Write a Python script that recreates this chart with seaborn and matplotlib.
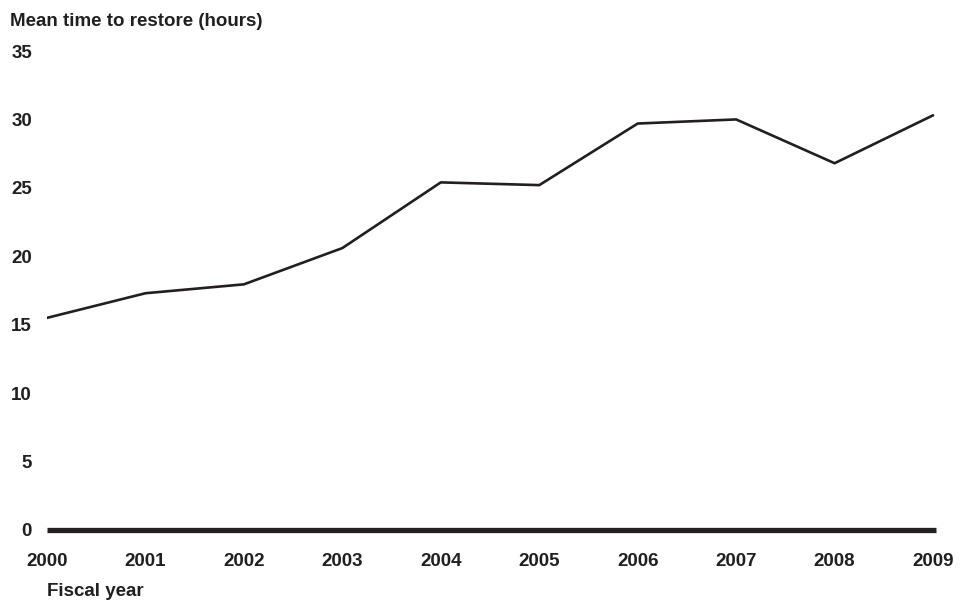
import matplotlib
matplotlib.use("Agg")
import matplotlib.pyplot as plt
import pandas as pd
import seaborn as sns

# values
years = [2000, 2001, 2002, 2003, 2004, 2005, 2006, 2007, 2008, 2009]
mttr_hours = [15.5, 17.3, 17.95, 20.6, 25.4, 25.2, 29.7, 30.0, 26.8, 30.3]
y_ticks = [0, 5, 10, 15, 20, 25, 30, 35]

ink = "#231f20"

sns.set_style("white")
plt.rcParams["font.family"] = ["Liberation Sans", "DejaVu Sans"]
plt.rcParams["font.weight"] = "bold"

df = pd.DataFrame({"year": years, "hours": mttr_hours})

W, H = 974, 602
fig = plt.figure(figsize=(W / 100, H / 100), dpi=100)
ax = fig.add_axes([47 / W, 1 - 530 / H, (936 - 47) / W, (530 - 51) / H])

sns.lineplot(data=df, x="year", y="hours", ax=ax, color=ink, linewidth=1.9)
ax.axhline(0, color=ink, linewidth=3.8, clip_on=False, zorder=3,
           solid_capstyle="butt")

ax.set_xlim(2000, 2009.03)
ax.set_ylim(0, 35)
ax.set_xticks(years)
ax.set_xticklabels([str(y) for y in years])
ax.set_yticks(y_ticks)
ax.set_yticklabels([str(v) for v in y_ticks])
ax.tick_params(axis="y", length=0, pad=10.8, labelsize=13.5, colors=ink)
ax.tick_params(axis="x", length=0, pad=16.5, labelsize=13.5, colors=ink)
for lbl in ax.get_xticklabels() + ax.get_yticklabels():
    lbl.set_fontweight("bold")
ax.set_xlabel("")
ax.set_ylabel("")
sns.despine(ax=ax, left=True, bottom=True)
ax.grid(False)

fig.text(10 / W, 1 - 21 / H, "Mean time to restore (hours)", fontsize=13.5,
         fontweight="bold", color=ink, va="center", ha="left")
fig.text(47 / W, 1 - 591 / H, "Fiscal year", fontsize=13.5,
         fontweight="bold", color=ink, va="center", ha="left")

fig.savefig("out.png", dpi=100)
